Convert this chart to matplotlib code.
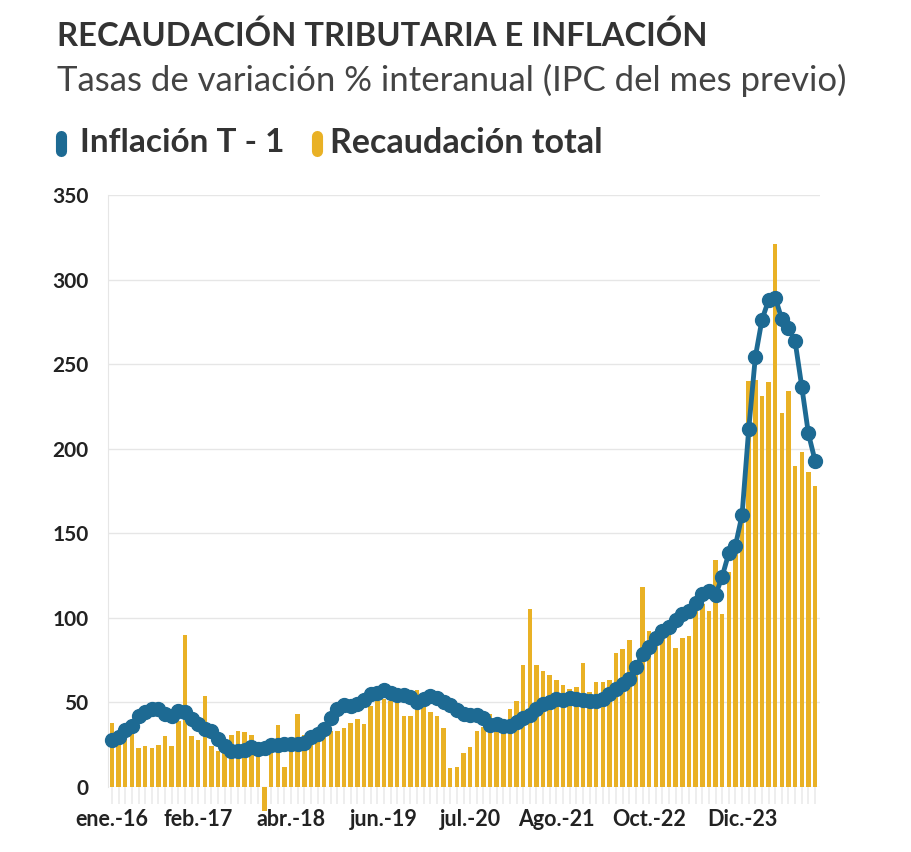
import numpy as np
import matplotlib.pyplot as plt
from matplotlib.lines import Line2D

plt.rcParams['font.family'] = ['Lato', 'DejaVu Sans']

# meses: ene.-2016 a nov.-2024
n_meses = 107
etiquetas = ['ene.-16', 'feb.-17', 'abr.-18', 'jun.-19', 'jul.-20', 'Ago.-21', 'Oct.-22', 'Dic.-23']
pos_etiquetas = [0, 13, 27, 41, 54, 67, 81, 95]

# Recaudación total, var. % interanual
recaudacion = [
    38, 30, 32, 32, 23, 24, 23, 25, 30, 24, 39, 90,          # 2016
    30, 28, 54, 24, 21, 22, 31, 33, 32.5, 31, 24, -14,       # 2017
    20, 36.5, 12, 24, 43, 30.5, 28, 29, 31, 33, 33, 35,      # 2018
    38, 40, 37, 48, 51, 52, 51, 50, 42, 42, 57.5, 51,        # 2019
    44.5, 42, 35, 11, 12, 20, 23.5, 33, 35.5, 43, 38, 36,    # 2020
    46, 51, 72, 105, 72, 68.5, 66.5, 63.5, 60.5, 58, 59, 73.5,   # 2021
    56, 62, 62, 63.5, 79.5, 81.5, 87, 75, 118, 92.5, 89, 90,     # 2022
    90, 82, 88, 89.5, 104, 108, 104, 134.5, 102, 127, 142, 157,  # 2023
    240, 240.5, 231, 239.5, 321, 221, 234, 189.5, 198, 186, 178, # 2024
]

# Inflación del mes previo, var. % interanual
inflacion = [
    27.6, 29.6, 33.5, 36, 42, 44.4, 46, 46.4, 43.4, 41.8, 45, 44.4,
    40.4, 37.5, 34.5, 33, 28.6, 24, 21.5, 21, 22, 23.5, 22.5, 22.9,
    24.8, 25.0, 25.4, 25.4, 25.5, 26.3, 29.5, 31.2, 34.4, 40.5, 45.9, 48.5,
    47.6, 49.3, 51.3, 54.7, 55.8, 57.3, 55.8, 54.4, 54.5, 53.5, 50.5, 52.1,
    53.8, 52.9, 50.3, 48.4, 45.6, 43.4, 42.8, 42.4, 40.7, 36.6, 37.2, 35.8,
    36.1, 38.5, 40.7, 42.6, 46.3, 48.8, 50.2, 51.8, 51.4, 52.5, 52.1, 51.2,
    50.9, 50.7, 52.3, 55.1, 58.0, 60.7, 64.0, 71.0, 78.5, 83.0, 88.0, 92.4,
    94.8, 98.8, 102.5, 104.3, 108.8, 114.2, 115.6, 113.4, 124.4, 138.3, 142.7, 160.9,
    211.4, 254.2, 276.2, 287.9, 289.4, 276.4, 271.5, 263.4, 236.7, 209.0, 193.0,
]

azul = '#1D6A93'
amarillo = '#E9B125'
gris = '#E6E6E6'

fig = plt.figure(figsize=(9.12, 8.52), dpi=100)
ax = fig.add_axes([108 / 912, 1 - 787 / 852, (820 - 108) / 912, (787 - 195) / 852])

x = np.arange(n_meses)
ax.bar(x, recaudacion, width=0.68, color=amarillo, zorder=2, clip_on=False)
ax.plot(x, inflacion, color=azul, lw=3.5, marker='o', ms=10, zorder=3, clip_on=False)

ax.set_xlim(-0.6, 106.75)
ax.set_ylim(0, 350)
ax.set_yticks(range(0, 351, 50))
ax.grid(axis='y', color=gris, lw=1, zorder=0)
ax.set_axisbelow(True)

for s in ['top', 'right', 'bottom']:
    ax.spines[s].set_visible(False)
ax.spines['left'].set_color(gris)

ax.set_xticks(pos_etiquetas)
ax.set_xticklabels(etiquetas)
ax.set_xticks(x, minor=True)
ax.tick_params(axis='x', which='both', length=12, color='#EBEBEB', width=1.2, pad=4)
ax.tick_params(axis='x', labelsize=15.5, labelcolor='#222222')
ax.tick_params(axis='y', length=0, pad=14, labelsize=15, labelcolor='#222222')
for lab in ax.get_xticklabels() + ax.get_yticklabels():
    lab.set_fontweight('bold')

# títulos
fig.text(57 / 912, 1 - 36 / 852, 'RECAUDACIÓN TRIBUTARIA E INFLACIÓN', fontsize=23.6,
         fontweight='bold', color='#333333', va='center', ha='left')
fig.text(57 / 912, 1 - 80 / 852, 'Tasas de variación % interanual (IPC del mes previo)',
         fontsize=25, color='#444444', va='center', ha='left')

# leyenda
for xp, col in [(61, azul), (317, amarillo)]:
    fig.add_artist(Line2D([xp / 912, xp / 912], [1 - 136 / 852, 1 - 151 / 852], lw=8,
                          color=col, solid_capstyle='round', transform=fig.transFigure))
fig.text(80 / 912, 1 - 143 / 852, 'Inflación T - 1', fontsize=24, fontweight='bold',
         color='#333333', va='center', ha='left')
fig.text(330 / 912, 1 - 143 / 852, 'Recaudación total', fontsize=24.5, fontweight='bold',
         color='#333333', va='center', ha='left')

fig.savefig('out.png', dpi=100, facecolor='white')
